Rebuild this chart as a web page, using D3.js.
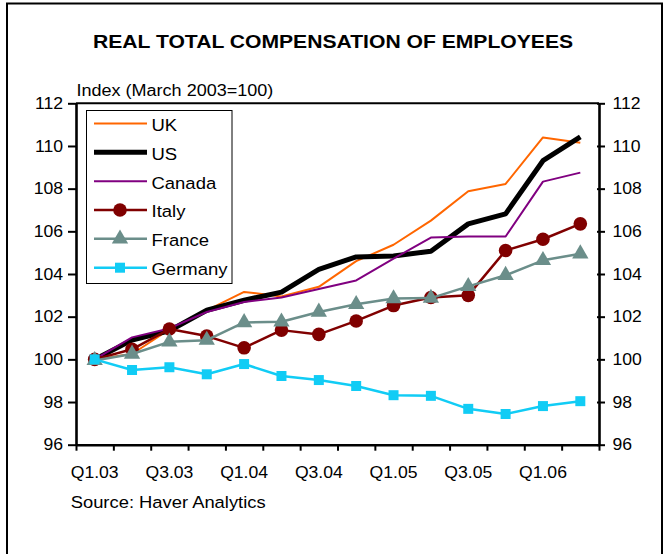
<!DOCTYPE html>
<html>
<head>
<meta charset="utf-8">
<script src="https://cdn.jsdelivr.net/npm/d3@7"></script>
<style>
  html, body { margin: 0; padding: 0; background: #fff; }
  svg { display: block; font-family: "Liberation Sans", Arial, sans-serif; }
</style>
</head>
<body>
<svg id="chart" width="665" height="554"></svg>
<script>
// ---- data ----
const quarters = ['Q1.03','Q2.03','Q3.03','Q4.03','Q1.04','Q2.04','Q3.04','Q4.04','Q1.05','Q2.05','Q3.05','Q4.05','Q1.06','Q2.06'];
const xLabels = ['Q1.03','Q3.03','Q1.04','Q3.04','Q1.05','Q3.05','Q1.06'];
const yTicks = [96, 98, 100, 102, 104, 106, 108, 110, 112];
const seriesNames = ['UK', 'US', 'Canada', 'Italy', 'France', 'Germany'];
const uk      = [100, 100.25, 101.4, 102.3, 103.16, 102.95, 103.4, 104.6, 105.37, 106.5, 107.88, 108.22, 110.4, 110.15];
const us      = [100, 100.9, 101.34, 102.3, 102.77, 103.15, 104.22, 104.8, 104.84, 105.07, 106.35, 106.82, 109.31, 110.43];
const canada  = [100, 101.03, 101.45, 102.22, 102.69, 102.9, 103.3, 103.7, 104.72, 105.71, 105.76, 105.76, 108.33, 108.75];
const italy   = [100, 100.47, 101.42, 101.09, 100.54, 101.37, 101.17, 101.8, 102.52, 102.9, 103.0, 105.1, 105.63, 106.35];
const france  = [99.95, 100.25, 100.82, 100.9, 101.73, 101.76, 102.22, 102.58, 102.85, 102.87, 103.42, 103.94, 104.64, 104.95];
const germany = [100, 99.5, 99.63, 99.3, 99.78, 99.22, 99.03, 98.75, 98.32, 98.29, 97.68, 97.44, 97.81, 98.04];

// ---- styles ----
const styles = {
  UK:      { values: uk,      color: '#FF6600', width: 2,   marker: null },
  US:      { values: us,      color: '#000000', width: 5,   marker: null },
  Canada:  { values: canada,  color: '#800080', width: 2,   marker: null },
  Italy:   { values: italy,   color: '#800000', width: 2.5, marker: 'circle' },
  France:  { values: france,  color: '#6B8E8A', width: 2.5, marker: 'triangle' },
  Germany: { values: germany, color: '#11CCF5', width: 2.5, marker: 'square' }
};

const SX = 1.1; // horizontal text stretch
const svg = d3.select('#chart');

// outer frame
svg.append('rect').attr('x', 7).attr('y', 3.5).attr('width', 655).attr('height', 600)
  .attr('fill', 'none').attr('stroke', '#000').attr('stroke-width', 2);

const L = 76, R = 599, T = 103.3, B = 444.7;

const x = d3.scaleBand().domain(quarters).range([L, R]).padding(0);
const xEdge = d3.scaleLinear().domain([0, quarters.length]).range([L, R]);
const y = d3.scaleLinear().domain([96, 112]).range([B, T]);
const xc = q => x(q) + x.bandwidth() / 2;

function stretchText(sel) {
  sel.each(function() {
    const t = d3.select(this);
    const tx = +t.attr('x') || 0;
    const ty = +t.attr('y') || 0;
    t.attr('x', null).attr('y', null)
     .attr('transform', `translate(${tx},${ty}) scale(${SX},1)`);
  });
}

function addText(txt, xx, yy, size, anchor, weight) {
  svg.append('text').attr('transform', `translate(${xx},${yy}) scale(${SX},1)`)
    .attr('text-anchor', anchor || 'start')
    .attr('font-size', size).attr('font-weight', weight || 'normal')
    .attr('fill', '#000').text(txt);
}

// title + labels
addText('REAL TOTAL COMPENSATION OF EMPLOYEES', 333, 47.5, 19.2, 'middle', 'bold');
addText('Index (March 2003=100)', 76.5, 95.5, 16.4, 'start');
addText('Source: Haver Analytics', 70.7, 508, 16.7, 'start');

// top border of plot
svg.append('line').attr('x1', L).attr('x2', R).attr('y1', T).attr('y2', T)
  .attr('stroke', '#000').attr('stroke-width', 2);

// left axis
const gl = svg.append('g').attr('transform', `translate(${L},0)`)
  .call(d3.axisLeft(y).tickValues(yTicks).tickSize(8).tickSizeOuter(0).tickPadding(5));
// right axis
const gr = svg.append('g').attr('transform', `translate(${R},0)`)
  .call(d3.axisRight(y).tickValues(yTicks).tickSize(6).tickSizeOuter(0).tickPadding(7.5));
// bottom axis ticks at band edges
const gb = svg.append('g').attr('transform', `translate(0,${B})`)
  .call(d3.axisBottom(xEdge).tickValues(d3.range(quarters.length + 1)).tickFormat('').tickSize(6).tickSizeOuter(0));
// bottom labels
const gbl = svg.append('g').attr('transform', `translate(0,${B})`)
  .call(d3.axisBottom(x).tickValues(xLabels).tickSize(0).tickPadding(21.5));
gbl.select('.domain').remove();

[gl, gr, gb].forEach(g => {
  g.select('.domain').attr('stroke', '#000').attr('stroke-width', 2.6);
  g.selectAll('.tick line').attr('stroke', '#000').attr('stroke-width', 2);
});
[gl, gr, gbl].forEach(g => {
  g.selectAll('.tick text').attr('font-size', 16).attr('fill', '#000')
    .attr('font-family', '"Liberation Sans", Arial, sans-serif');
  stretchText(g.selectAll('.tick text'));
});
// right axis tick crossing slightly inside
gr.selectAll('.tick line').attr('x1', -2);

// lines
const line = d3.line().x((d, i) => xc(quarters[i])).y(d => y(d));
const markerSize = { circle: 145, triangle: 115, square: 100 };
const symType = { circle: d3.symbolCircle, triangle: d3.symbolTriangle, square: d3.symbolSquare };

seriesNames.forEach(name => {
  const s = styles[name];
  const g = svg.append('g');
  g.append('path').attr('d', line(s.values)).attr('fill', 'none')
    .attr('stroke', s.color).attr('stroke-width', s.width)
    .attr('stroke-linejoin', 'round');
  if (s.marker) {
    g.selectAll('path.m').data(s.values).join('path').attr('class', 'm')
      .attr('d', d3.symbol(symType[s.marker]).size(markerSize[s.marker]))
      .attr('transform', (d, i) => `translate(${xc(quarters[i])},${y(d)})`)
      .attr('fill', s.color);
  }
});

// legend
const lg = svg.append('g');
lg.append('rect').attr('x', 86.5).attr('y', 110.5).attr('width', 145.5).attr('height', 173)
  .attr('fill', '#fff').attr('stroke', '#000').attr('stroke-width', 1);
const legendY = d3.scalePoint().domain(seriesNames).range([123.5, 267.7]);
seriesNames.forEach(name => {
  const s = styles[name];
  const yy = legendY(name);
  lg.append('line').attr('x1', 94).attr('x2', 147).attr('y1', yy).attr('y2', yy)
    .attr('stroke', s.color).attr('stroke-width', s.width);
  if (s.marker) {
    lg.append('path').attr('d', d3.symbol(symType[s.marker]).size(markerSize[s.marker])())
      .attr('transform', `translate(120,${yy})`).attr('fill', s.color);
  }
  lg.append('text').attr('transform', `translate(151.5,${yy + 7.4}) scale(${SX},1)`)
    .attr('font-size', 16.8).attr('fill', '#000').text(name);
});
</script>
</body>
</html>
